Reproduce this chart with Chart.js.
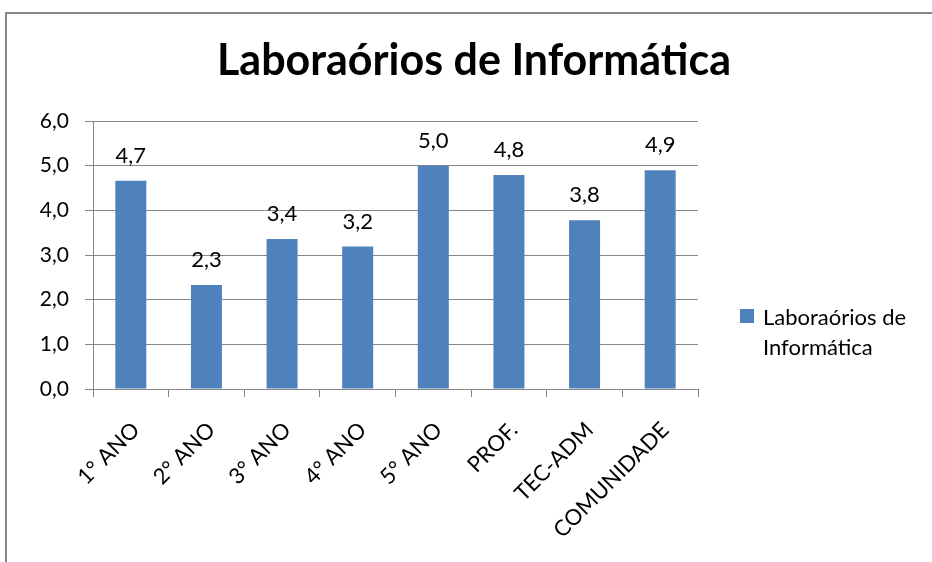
<!DOCTYPE html>
<html>
<head>
<meta charset="utf-8">
<script src="https://cdn.jsdelivr.net/npm/chart.js@4"></script>
<style>
html,body{margin:0;padding:0;background:#fff;}
canvas{display:block;}
</style>
</head>
<body>
<canvas id="c" width="932" height="562"></canvas>
<script>
const categories = ["1° ANO", "2° ANO", "3° ANO", "4° ANO", "5° ANO", "PROF.", "TEC-ADM", "COMUNIDADE"];
const seriesName = "Laboraórios de Informática";
const legendLines = ["Laboraórios de", "Informática"];
const values = [4.66, 2.33, 3.36, 3.19, 5.0, 4.79, 3.78, 4.90];
const titleText = "Laboraórios de Informática";

const FONT = "Lato";
const GRID = "#868686";
const BAR = "#4F81BD";
const fmt = v => Number(v).toFixed(1).replace(".", ",");

const framePlugin = {
  id: "frame",
  beforeDraw(chart) {
    const ctx = chart.ctx;
    ctx.save();
    ctx.fillStyle = "#fff";
    ctx.fillRect(0, 0, chart.width, chart.height);
    ctx.strokeStyle = GRID;
    ctx.lineWidth = 2;
    ctx.strokeRect(6, 13, 1000, 1000);
    ctx.fillStyle = "#000";
    ctx.font = "bold 43px " + FONT;
    ctx.textAlign = "center";
    ctx.textBaseline = "alphabetic";
    ctx.fillText(titleText, 474, 75);
    ctx.restore();
  }
};

const labelPlugin = {
  id: "barLabels",
  afterDatasetsDraw(chart) {
    const ctx = chart.ctx;
    ctx.save();
    ctx.font = "22px " + FONT;
    ctx.fillStyle = "#000";
    ctx.textAlign = "center";
    ctx.textBaseline = "alphabetic";
    chart.getDatasetMeta(0).data.forEach((el, i) => {
      ctx.fillText(fmt(chart.data.datasets[0].data[i]), el.x, el.y - 18);
    });
    ctx.restore();
  }
};

const legendPlugin = {
  id: "sideLegend",
  afterDraw(chart) {
    const ctx = chart.ctx;
    ctx.save();
    ctx.fillStyle = BAR;
    ctx.fillRect(740, 309, 14, 14);
    ctx.fillStyle = "#000";
    ctx.font = "22px " + FONT;
    ctx.textAlign = "left";
    ctx.textBaseline = "alphabetic";
    legendLines.forEach((t, i) => ctx.fillText(t, 763, 325 + i * 30));
    ctx.restore();
  }
};

new Chart(document.getElementById("c"), {
  type: "bar",
  data: {
    labels: categories,
    datasets: [{
      label: seriesName,
      data: values,
      backgroundColor: BAR,
      borderWidth: 0,
      barPercentage: 0.41,
      categoryPercentage: 1.0
    }]
  },
  options: {
    responsive: false,
    animation: false,
    devicePixelRatio: 1,
    layout: { padding: { left: 0, right: 234, top: 121, bottom: 0 } },
    plugins: {
      legend: { display: false },
      tooltip: { enabled: false },
      title: { display: false }
    },
    scales: {
      x: {
        grid: { display: true, drawOnChartArea: false, drawTicks: true, tickLength: 8, color: GRID, offset: true },
        border: { display: true, color: GRID, width: 1 },
        ticks: { color: "#000", font: { family: FONT, size: 22 }, maxRotation: 45, minRotation: 45, autoSkip: false, padding: 20, labelOffset: 5 },
        afterFit(s) { s.height = 173; }
      },
      y: {
        min: 0, max: 6,
        grid: { color: GRID, tickLength: 8, drawTicks: true },
        border: { display: true, color: GRID, width: 1 },
        ticks: { stepSize: 1, color: "#000", font: { family: FONT, size: 21 }, padding: 16, callback: v => fmt(v) },
        afterFit(s) { s.width = 93; }
      }
    }
  },
  plugins: [framePlugin, labelPlugin, legendPlugin]
});
</script>
</body>
</html>
